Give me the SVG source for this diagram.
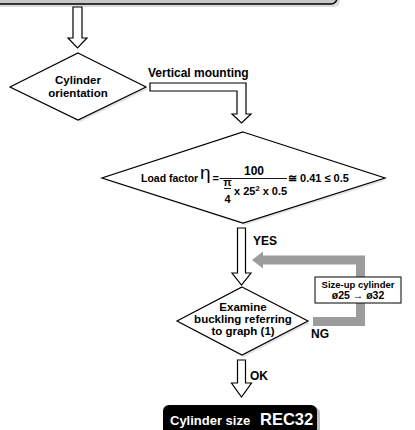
<svg xmlns="http://www.w3.org/2000/svg" width="415" height="430" viewBox="0 0 415 430">
<style>
  .t { font-family: "Liberation Sans", Arial, Helvetica, sans-serif; font-weight: bold; fill: #000; }
  .c { text-anchor: middle; }
  .shape { fill: #fff; stroke: #000; stroke-width: 1.2; }
  .shadow { fill: #e2e2e2; stroke: none; }
  .arrow { fill: #fff; stroke: #000; stroke-width: 1.2; stroke-linejoin: miter; }
</style>
<rect width="415" height="430" fill="#fff"/>

<g id="top-box">
  <rect x="-10" y="-20" width="350" height="27" rx="6" fill="#dcdcdc"/>
  <rect x="-10" y="-20" width="347" height="24" rx="6" fill="#c8c8c8" stroke="#000" stroke-width="1.5"/>
</g>

<g id="connectors">
  <path class="arrow" d="M73,7 H82 V38 H87 L77.5,48 L68,38 H73 Z"/>
  <path class="arrow" d="M150,83 H246 V114 H251 L241.5,123 L232,114 H237 V91 H150 Z"/>
  <text class="t" x="148" y="77" font-size="12">Vertical mounting</text>
  <path class="arrow" d="M237.5,228 H245.5 V273 H251 L241.5,285 L232,273 H237.5 Z"/>
  <text class="t" x="253" y="245" font-size="12">YES</text>
  <polyline points="313,321.5 360.5,321.5 360.5,260 262,260" fill="none" stroke="#9c9c9c" stroke-width="9" stroke-linejoin="miter"/>
  <polygon points="252,260 263,251.5 263,268.5" fill="#9c9c9c"/>
  <text class="t" x="311" y="338" font-size="12">NG</text>
  <path class="arrow" d="M237.5,360 H245.5 V383 H251.5 L241.5,397 L231.5,383 H237.5 Z"/>
  <text class="t" x="250" y="380" font-size="12">OK</text>
</g>

<g id="cylinder-orientation">
  <polygon class="shadow" points="80,55 148,89 80,122 12,89"/>
  <polygon class="shape" points="78,53 146,87 78,120 10,87"/>
  <text class="t c" x="78" y="84" font-size="11.5">Cylinder</text>
  <text class="t c" x="78" y="96.5" font-size="11.5">orientation</text>
</g>

<g id="load-factor">
  <polygon class="shadow" points="245,134 387,180 245,225 104,180"/>
  <polygon class="shape" points="243,132 385,178 243,223 102,178"/>
  <text class="t" x="141" y="182" font-size="10.5">Load factor</text>
  <text x="200" y="179" font-size="19" font-family="Liberation Sans, Arial, sans-serif" fill="#000">η</text>
  <text class="t" x="212.5" y="182" font-size="11">=</text>
  <text class="t c" x="254" y="175" font-size="12">100</text>
  <line x1="219.5" y1="178.5" x2="287" y2="178.5" stroke="#000" stroke-width="0.9"/>
  <text class="t c" x="227.5" y="186" font-size="11">π</text>
  <line x1="224" y1="188.5" x2="231" y2="188.5" stroke="#000" stroke-width="0.9"/>
  <text class="t c" x="227.5" y="203" font-size="11">4</text>
  <text class="t" x="234" y="195" font-size="11">x 25<tspan font-size="7.5" dy="-4">2</tspan><tspan dy="4"> x 0.5</tspan></text>
  <text class="t" x="288" y="182" font-size="11">≅ 0.41 ≤ 0.5</text>
</g>

<g id="size-up">
  <rect x="315" y="277" width="86" height="26" fill="#fff" stroke="#000" stroke-width="1"/>
  <text class="t c" x="358" y="287.5" font-size="9.5">Size-up cylinder</text>
  <text class="t c" x="358" y="299" font-size="10.5">ø25 → ø32</text>
</g>

<g id="examine-buckling">
  <polygon class="shadow" points="244,289 310,323 244,357 179,323"/>
  <polygon class="shape" points="242,287 308,321 242,355 177,321"/>
  <text class="t c" x="243" y="311" font-size="11.5">Examine</text>
  <text class="t c" x="243" y="323" font-size="11.5">buckling referring</text>
  <text class="t c" x="243" y="335" font-size="11.5">to graph (1)</text>
</g>

<g id="cylinder-size">
  <rect x="166" y="407" width="154" height="40" rx="6" fill="#bdbdbd"/>
  <rect x="163" y="405" width="154" height="40" rx="6" fill="#000"/>
  <text x="170" y="425" font-size="13" font-weight="bold" font-family="Liberation Sans, Arial, sans-serif" fill="#fff">Cylinder size</text>
  <text x="260" y="425" font-size="16.5" font-weight="bold" font-family="Liberation Sans, Arial, sans-serif" fill="#fff">REC32</text>
</g>
</svg>
